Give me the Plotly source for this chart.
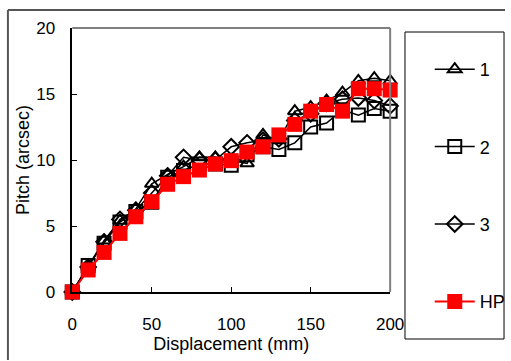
import plotly.graph_objects as go

displacement = [0, 10, 20, 30, 40, 50, 60, 70, 80, 90, 100, 110, 120, 130, 140, 150, 160, 170, 180, 190, 200]
series_1 = [0, 1.9, 3.9, 5.4, 6.3, 8.2, 8.9, 9.5, 10.2, 10.2, 10.0, 9.75, 11.9, 11.5, 13.7, 14.0, 14.5, 15.1, 16.0, 16.2, 16.0]
series_2 = [0, 2.0, 3.7, 5.3, 6.1, 6.8, 8.7, 9.2, 9.7, 9.7, 9.6, 10.4, 11.0, 10.8, 11.3, 12.5, 12.8, 13.8, 13.4, 13.9, 13.7]
series_3 = [0, 1.9, 3.8, 5.5, 6.2, 7.5, 8.8, 10.2, 10.0, 10.0, 11.0, 11.3, 11.5, 11.6, 13.0, 13.5, 14.3, 14.6, 14.7, 14.5, 14.1]
series_hp = [0, 1.67, 3.0, 4.44, 5.7, 6.84, 8.16, 8.74, 9.24, 9.7, 9.95, 10.6, 11.0, 11.9, 12.7, 13.7, 14.2, 13.7, 15.4, 15.4, 15.3]
x_ticks = [0, 50, 100, 150, 200]
y_ticks = [0, 5, 10, 15, 20]

W, H = 511, 361
L, R, T, B = 73, 394, 28, 292

def px(x):
    return x / W

def py(y):
    return (H - y) / H

font = "Liberation Sans, Arial, sans-serif"
fig = go.Figure()
fig.add_trace(go.Scatter(x=displacement, y=series_1, name="1", mode="lines+markers",
                         line=dict(color="black", width=1.5),
                         marker=dict(symbol="triangle-up-open", size=12, color="black", line=dict(width=2))))
fig.add_trace(go.Scatter(x=displacement, y=series_2, name="2", mode="lines+markers",
                         line=dict(color="black", width=1.5),
                         marker=dict(symbol="square-open", size=13, color="black", line=dict(width=2))))
fig.add_trace(go.Scatter(x=displacement, y=series_3, name="3", mode="lines+markers",
                         line=dict(color="black", width=1.5),
                         marker=dict(symbol="diamond-open", size=12, color="black", line=dict(width=2))))
fig.add_trace(go.Scatter(x=displacement, y=series_hp, name="HP", mode="lines+markers",
                         line=dict(color="red", width=2),
                         marker=dict(symbol="square", size=15, color="red", line=dict(width=0))))

shapes = [
    # outer frame: top and left edges
    dict(type="line", xref="paper", yref="paper", x0=px(8), x1=px(510), y0=py(10), y1=py(10),
         line=dict(color="#555555", width=2), layer="above"),
    dict(type="line", xref="paper", yref="paper", x0=px(8), x1=px(8), y0=py(10), y1=py(360),
         line=dict(color="#555555", width=2), layer="above"),
    # plot area top/right border
    dict(type="line", xref="x domain", yref="y domain", x0=0, x1=1, y0=1, y1=1,
         line=dict(color="#808080", width=2)),
    dict(type="line", xref="x domain", yref="y domain", x0=1, x1=1, y0=0, y1=1,
         line=dict(color="#808080", width=2)),
    # legend box
    dict(type="rect", xref="paper", yref="paper", x0=px(409), x1=px(509), y0=py(339), y1=py(32),
         line=dict(color="black", width=1), fillcolor="rgba(0,0,0,0)"),
]

fig.update_layout(
    width=W, height=H,
    margin=dict(l=0, r=0, t=0, b=0),
    paper_bgcolor="white", plot_bgcolor="white",
    font=dict(family=font, size=17, color="black"),
    shapes=shapes,
    showlegend=True,
    legend=dict(x=px(434), y=py(51), xanchor="left", yanchor="top",
                bgcolor="rgba(0,0,0,0)", borderwidth=0,
                font=dict(size=18), tracegroupgap=51, itemwidth=40),
)
fig.update_xaxes(range=[0, 200], domain=[px(L), px(R)], tickvals=x_ticks,
                 showgrid=False, zeroline=False,
                 showline=True, linecolor="black", linewidth=1.5,
                 ticks="inside", ticklen=5, tickcolor="black",
                 ticklabelstandoff=16, automargin=False,
                 title=dict(text="Displacement (mm)", font=dict(size=18), standoff=0))
fig.update_yaxes(range=[0, 20], domain=[py(B), py(T)], tickvals=y_ticks,
                 showgrid=False, zeroline=False,
                 showline=True, linecolor="black", linewidth=1.5,
                 ticks="inside", ticklen=5, tickcolor="black",
                 ticklabelstandoff=12, automargin=False,
                 title=dict(text="Pitch (arcsec)", font=dict(size=18), standoff=2))
for i, t in enumerate(fig.data):
    t.legendgroup = str(i)
fig.update_traces(cliponaxis=False)
fig.write_html(
    "out.html",
    config={"displayModeBar": False},
    post_script=(
        "document.documentElement.style.overflow='hidden';"
        "document.body.style.margin='0px';"
        "document.body.style.overflow='hidden';"
    ),
)
